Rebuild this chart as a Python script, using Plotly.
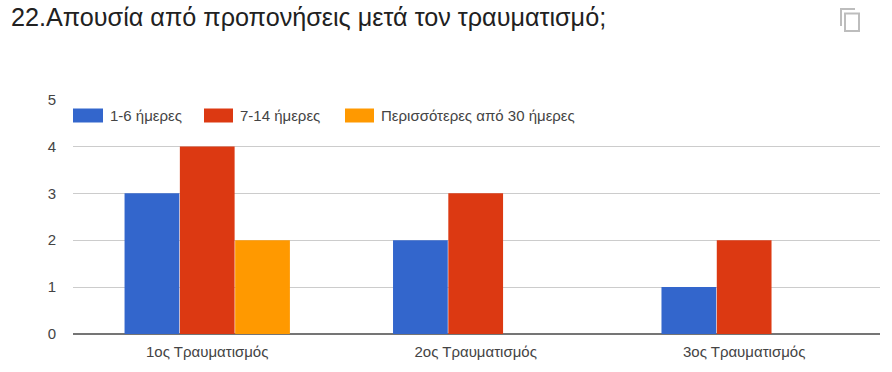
import plotly.graph_objects as go

categories = ["1ος Τραυματισμός", "2ος Τραυματισμός", "3ος Τραυματισμός"]
series_names = ["1-6 ήμερες", "7-14 ήμερες", "Περισσότερες από 30 ήμερες"]
values_a = [3, 2, 1]
values_b = [4, 3, 2]
values_c = [2, 0, 0]
colors = ["#3366cc", "#dc3912", "#ff9900"]
title_text = "22.Απουσία από προπονήσεις μετά τον τραυματισμό;"
y_ticks = [0, 1, 2, 3, 4, 5]

W, H = 892, 372
L, R, T, B = 73, 880, 99.5, 334
FONT = "Liberation Sans, Arial, sans-serif"


def px(x):
    return x / W


def py(y):
    return 1 - y / H


fig = go.Figure()
for name, vals, col in zip(series_names, [values_a, values_b, values_c], colors):
    fig.add_bar(x=categories, y=vals, name=name, marker=dict(color=col, line=dict(width=0)))

shapes = []
annotations = [
    dict(text=title_text, x=px(9), y=py(17), xref="paper", yref="paper", xanchor="left",
         yanchor="middle", showarrow=False, font=dict(family=FONT, size=25.2, color="#212121")),
]
# legend row
for x0, x1, tx, name, col in zip([73, 204, 345], [103, 233, 374], [108, 238, 379], series_names, colors):
    shapes.append(dict(type="rect", xref="paper", yref="paper", x0=px(x0), x1=px(x1),
                       y0=py(122.5), y1=py(108.5), fillcolor=col, line=dict(width=0)))
    annotations.append(dict(text=name, x=px(tx), y=py(116), xref="paper", yref="paper", xanchor="left",
                            yanchor="middle", showarrow=False, font=dict(family=FONT, size=15, color="#444444")))
# copy icon
icon = "#bdbdbd"
shapes.append(dict(type="rect", xref="paper", yref="paper", x0=px(845), x1=px(859), y0=py(31), y1=py(13.5),
                   line=dict(color=icon, width=2), fillcolor="white"))
shapes.append(dict(type="path", xref="paper", yref="paper", line=dict(color=icon, width=2),
                   path=f"M {px(841)} {py(26)} L {px(841)} {py(9)} L {px(855)} {py(9)}"))

fig.update_layout(
    width=W, height=H, autosize=False, margin=dict(l=0, r=0, t=0, b=0),
    paper_bgcolor="white", plot_bgcolor="white", showlegend=False,
    barmode="group", bargap=0.382, bargroupgap=0.01,
    xaxis=dict(domain=[px(L), px(R)], range=[-0.5, 2.506], showgrid=False, showline=False, ticks="", zeroline=False,
               tickfont=dict(family=FONT, size=15, color="#444444"), ticklabeloverflow="allow",
               automargin=False, ticklabelstandoff=7),
    yaxis=dict(domain=[py(B), py(T)], range=[0, 5], tickvals=y_ticks, showline=False, ticks="",
               gridcolor="#cccccc", gridwidth=1, zeroline=True, zerolinecolor="#757575", zerolinewidth=2,
               tickfont=dict(family=FONT, size=15, color="#444444"), automargin=False, ticklabelstandoff=16),
    shapes=shapes, annotations=annotations,
)
fig.write_html("out.html", post_script="document.body.style.margin='0';document.body.style.overflow='hidden';",
               config=dict(displayModeBar=False))
